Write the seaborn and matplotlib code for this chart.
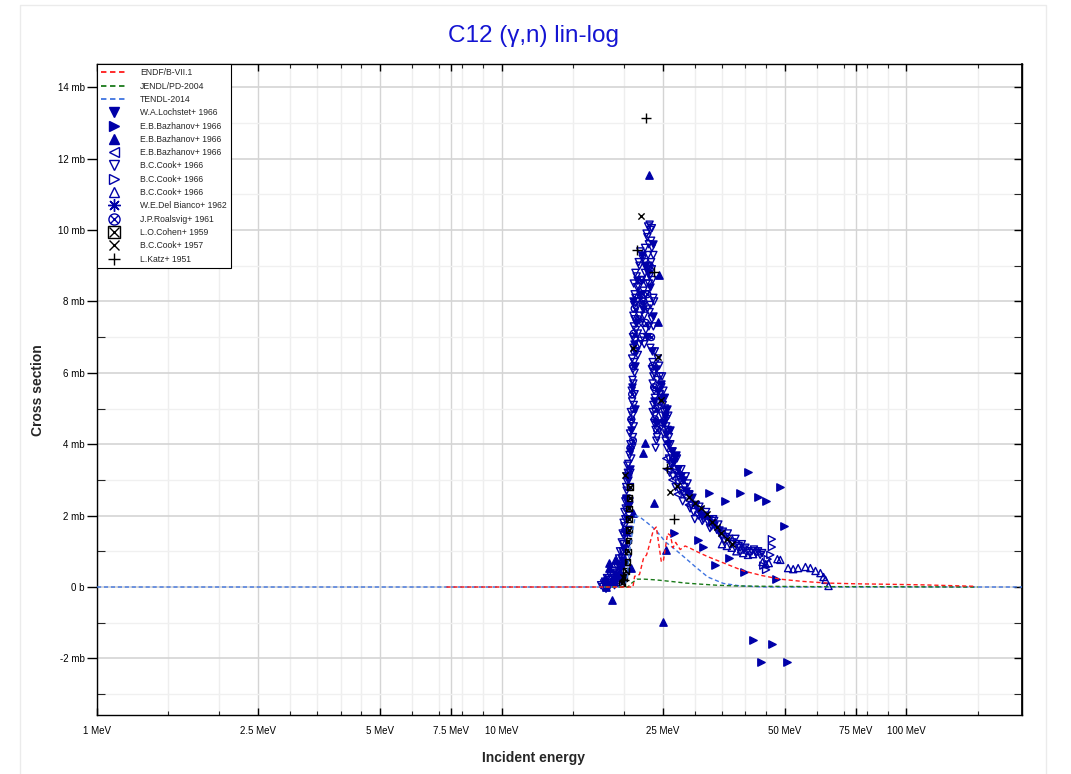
import numpy as np
import pandas as pd
import matplotlib
matplotlib.use("Agg")
import matplotlib.pyplot as plt
from matplotlib.lines import Line2D
from matplotlib.patches import Rectangle
from matplotlib.ticker import FixedLocator, FuncFormatter, NullFormatter
import seaborn as sns

# ---------------- data (MeV, mb) ----------------
endf_e = [7.3, 21.1, 21.3, 21.9, 22.4, 22.8, 23.2, 23.7, 24.1, 24.8, 25.1, 25.7, 26.1, 26.5, 26.9,
          27.6, 28.4, 29.3, 30.5, 32.3, 34.5, 36.7, 39.6, 44.0, 48.8, 55.0, 63.8, 75.0, 86.3, 110.0, 148.0]
endf_s = [0, 0, 0.3, 0.35, 0.8, 0.9, 1.2, 1.6, 1.68, 0.7, 0.75, 1.5, 1.45, 1.1, 1.25,
          1.05, 1.15, 1.08, 0.98, 0.85, 0.72, 0.6, 0.45, 0.32, 0.22, 0.16, 0.11, 0.09, 0.08, 0.06, 0.02]

jendl_e = [18.0, 20.5, 21.0, 21.6, 22.5, 24.0, 25.0, 26.5, 28.5, 31.0, 34.0, 38.0, 45.0, 60.0, 80.0, 110.0, 150.0]
jendl_s = [0, 0, 0.12, 0.22, 0.22, 0.2, 0.18, 0.15, 0.11, 0.08, 0.05, 0.03, 0.02, 0.01, 0.01, 0.005, 0.0]

tendl_e = [1.0, 19.5, 20.0, 20.4, 20.6, 21.0, 21.4, 22.0, 23.0, 24.0, 25.4, 26.9, 28.5, 30.0,
           32.3, 35.3, 38.9, 45.0, 200.0]
tendl_s = [0, 0, 0.05, 0.2, 0.84, 1.5, 2.0, 1.95, 1.78, 1.6, 1.26, 1.04, 0.8, 0.58,
           0.28, 0.1, 0.03, 0.0, 0.0]

lochstet_e = [18.8, 19.2, 19.6, 20.3, 20.5, 20.9, 21.0, 21.2, 21.1, 21.6, 22.2, 22.4, 22.8, 23.3, 23.7,
              23.5, 23.8, 24.1, 24.7, 25.0, 25.3, 25.5, 25.8, 26.3, 26.8, 27.3, 28.0, 28.6, 29.3, 30.0,
              30.8, 31.6, 32.5, 33.5, 34.5,
              18.3, 19.0, 19.4, 19.8, 20.0, 20.2, 20.4, 20.6, 20.7, 20.8, 21.3, 21.4, 21.5, 22.0, 22.6,
              23.0, 23.6, 24.0, 24.4, 25.1, 25.6, 26.0, 26.5, 27.0, 27.7, 29.0, 31.2, 33.0]
lochstet_s = [0.15, 0.3, 0.5, 2.5, 3.0, 4.4, 5.6, 6.8, 8.0, 8.6, 9.3, 7.8, 7.0, 8.4, 7.6,
              6.6, 5.2, 4.6, 5.7, 5.3, 4.8, 4.3, 4.0, 3.8, 3.6, 3.3, 3.0, 2.7, 2.5, 2.3,
              2.1, 2.0, 1.9, 1.75, 1.6,
              0.05, 0.2, 0.35, 0.75, 1.1, 1.5, 1.9, 2.3, 3.3, 3.8, 5.0, 6.2, 7.4, 8.2, 9.0,
              8.8, 9.6, 6.1, 5.5, 4.6, 5.0, 4.4, 3.5, 3.7, 3.1, 2.6, 2.0, 1.8]

baz_r_e = [40.7, 48.8, 32.6, 38.7, 35.7, 43.1, 44.9, 49.9, 30.6, 31.5, 36.5, 33.7, 39.6, 47.7,
           41.7, 46.6, 43.8, 50.7, 26.6]
baz_r_s = [3.22, 2.8, 2.63, 2.63, 2.41, 2.52, 2.41, 1.71, 1.32, 1.12, 0.81, 0.62, 0.42, 0.22,
           -1.48, -1.6, -2.1, -2.1, 1.51]

baz_u_e = [17.95, 18.1, 18.36, 18.46, 18.77, 19.1, 20.92, 21.16, 22.4, 22.66, 23.18, 23.85, 24.4,
           24.53, 25.09, 25.52]
baz_u_s = [0.25, 0.0, 0.53, 0.67, -0.36, 0.76, 0.53, 2.07, 3.75, 4.03, 11.54, 2.35, 7.42,
           8.74, -0.98, 1.04]

baz_l_e = [25.5, 25.7, 26.1, 26.4, 27.2, 29.0]
baz_l_s = [3.6, 3.3, 3.5, 3.0, 2.6, 2.3]

cook66_v_e = [17.6, 17.9, 18.1, 18.3, 18.5, 18.7, 18.9, 19.1, 19.2, 19.4, 19.5, 19.7, 19.8, 19.9, 20.0,
              20.05, 20.1, 20.2, 20.25, 20.3, 20.35, 20.4, 20.5, 20.55,
              17.8, 18.0, 18.2, 18.4, 18.6, 18.8, 19.0, 19.3, 19.5, 19.6, 19.8, 19.9, 20.0, 20.1, 20.2,
              20.3, 20.35, 20.45, 19.0, 19.4, 19.8, 20.2, 20.4, 20.5, 20.55, 20.6, 20.65, 20.7, 20.75, 20.8,
              20.7, 20.8, 20.75, 20.9, 20.85, 21.0, 20.95, 21.05, 21.1, 21.0, 21.15, 21.1, 21.2, 21.15,
              21.25, 21.3, 21.2, 21.4,
              20.9, 21.0, 21.1, 21.2, 21.05, 21.2, 21.3, 21.15, 21.3, 21.25, 21.4, 21.35, 21.45, 21.3,
              21.5, 21.4, 21.6, 21.55,
              21.5, 21.7, 21.9, 22.1, 22.3, 22.5, 22.7, 22.9, 23.1, 23.3, 23.5, 23.7, 21.6, 21.8, 22.0,
              22.2, 22.4, 22.6, 22.8, 23.0, 23.2, 23.4, 23.6, 21.9, 22.3,
              21.7, 21.9, 22.1, 22.3, 22.5, 22.7, 22.9, 23.1, 23.3, 23.5, 23.7, 23.9, 22.0, 22.6, 23.4,
              23.7, 22.8, 23.5, 23.0, 21.8, 22.2, 23.2, 23.8,
              22.6, 22.9, 23.1, 23.3, 23.2, 23.5, 23.0,
              23.6, 23.7, 23.8, 23.7, 23.9, 24.0, 24.1, 23.8,
              23.5, 23.6, 23.9, 23.6, 23.8, 24.2, 24.0, 24.2, 24.3, 24.4,
              24.6, 24.8, 24.7, 25.0, 24.9, 25.2, 25.1, 25.4, 25.6, 25.3, 25.5, 24.5,
              24.6, 24.9, 25.1, 25.3, 25.2, 25.5, 25.7, 25.9, 26.1, 25.8, 24.8, 26.2,
              25.9, 26.3, 26.7, 26.5, 27.0, 27.3, 27.6, 27.9, 28.3, 28.6, 29.0, 29.4, 26.9, 28.0,
              26.4, 26.8, 27.1, 27.4, 27.8, 28.2, 28.8, 29.2, 29.6, 26.0, 27.5, 28.5,
              29.8, 30.2, 30.6, 31.0, 31.5, 31.9, 32.4, 33.0, 33.5, 34.0, 34.6, 35.2, 35.8, 36.5,
              37.2, 38.0, 38.8, 39.6, 40.5, 41.5, 42.5, 43.5,
              30.0, 30.8, 31.3, 32.0, 32.7, 33.3, 34.3, 35.0, 35.5, 36.2, 37.0, 37.8, 38.5, 39.2,
              40.0, 41.0, 42.0, 43.0, 44.0]
cook66_v_s = [0.05, 0.1, -0.05, 0.1, 0.2, 0.1, 0.25, 0.2, 0.4, 0.35, 0.6, 0.55, 0.8, 1.0, 1.2,
              1.45, 1.7, 1.9, 2.2, 2.45, 2.7, 2.95, 3.2, 3.45,
              0.0, 0.15, 0.25, 0.0, 0.3, 0.35, 0.45, 0.55, 0.8, 1.0, 1.25, 1.5, 1.8, 2.1, 2.4,
              2.8, 3.1, 3.4, 0.05, 0.1, 0.2, 0.3, 0.5, 0.8, 1.2, 1.6, 2.0, 2.4, 2.8, 3.2,
              3.7, 4.0, 4.3, 4.6, 4.9, 5.2, 5.5, 5.8, 6.1, 6.4, 6.7, 7.0, 7.3, 7.6,
              7.9, 8.2, 8.5, 8.8,
              3.6, 3.9, 4.2, 4.5, 4.8, 5.1, 5.4, 5.7, 6.0, 6.3, 6.6, 6.9, 7.2, 7.5,
              7.8, 8.1, 8.4, 8.7,
              6.6, 7.1, 6.8, 7.4, 7.0, 7.6, 7.2, 7.8, 7.3, 7.9, 7.5, 8.1, 8.0, 8.4, 8.1,
              8.6, 8.3, 8.8, 8.5, 9.0, 8.7, 9.1, 8.6, 9.0, 9.2,
              6.5, 7.6, 6.9, 8.0, 6.8, 8.2, 7.0, 8.5, 6.7, 8.9, 7.3, 6.6, 9.4, 9.1, 9.7,
              9.3, 9.9, 10.05, 10.1, 9.1, 7.9, 7.7, 8.0,
              9.5, 9.8, 9.6, 10.0, 10.15, 9.5, 9.3,
              6.3, 5.9, 5.5, 5.1, 4.8, 4.4, 4.1, 6.0,
              6.1, 5.7, 5.3, 4.9, 4.6, 4.2, 3.9, 5.8, 6.4, 5.0,
              5.9, 5.6, 5.3, 5.1, 4.8, 4.6, 4.3, 4.1, 3.9, 5.0, 4.5, 6.2,
              5.4, 5.9, 5.5, 5.3, 4.9, 4.7, 4.4, 4.2, 4.0, 4.8, 4.5, 3.7,
              3.6, 3.4, 3.5, 3.1, 3.2, 2.9, 3.0, 2.7, 2.8, 2.5, 2.6, 2.3, 2.8, 2.4,
              3.8, 3.3, 3.6, 3.1, 3.3, 2.6, 2.9, 2.2, 2.5, 3.2, 2.7, 3.1,
              2.1, 2.3, 2.0, 2.15, 1.9, 2.0, 1.8, 1.7, 1.85, 1.6, 1.5, 1.55, 1.4, 1.35,
              1.25, 1.2, 1.1, 1.05, 1.0, 1.0, 0.95, 0.9,
              1.9, 2.25, 1.85, 2.1, 1.65, 1.9, 1.75, 1.4, 1.3, 1.5, 1.2, 1.35, 1.15, 1.2,
              1.1, 0.95, 1.05, 1.0, 0.95]

cook66_r_e = [46.5, 46.5, 46.1, 45.4, 45.0, 44.3]
cook66_r_s = [1.34, 1.12, 0.9, 0.78, 0.48, 0.6]

cook66_u_e = [35.0, 36.0, 37.0, 38.0, 39.0, 39.5, 40.6, 41.8, 43.1, 44.1, 44.9, 45.7, 48.0, 48.8,
              51.0, 52.5, 54.0, 56.3, 57.9, 59.6, 61.3, 62.4, 63.1, 64.2]
cook66_u_s = [1.2, 1.15, 1.1, 1.0, 1.05, 0.95, 0.9, 0.92, 1.0, 0.7, 0.64, 0.67, 0.78, 0.76,
              0.53, 0.5, 0.53, 0.56, 0.53, 0.45, 0.39, 0.28, 0.2, 0.03]

delbianco_e = [19.0, 19.5, 20.0, 20.4]
delbianco_s = [0.1, 0.3, 0.7, 1.5]

roalsvig_e = [19.3, 19.7, 20.0, 20.2, 20.4, 20.6, 20.8, 20.9, 21.0, 21.1, 21.2, 21.3, 21.8, 22.4,
              22.9, 23.4, 23.6, 23.8, 24.0, 24.2, 21.1, 21.2, 21.3, 22.1, 22.7, 23.2, 23.9, 24.6, 25.0]
roalsvig_s = [0.3, 0.6, 1.0, 1.6, 2.2, 3.2, 3.9, 4.7, 5.4, 6.2, 7.1, 7.8, 7.5, 8.0,
              8.2, 7.0, 6.2, 5.6, 5.0, 4.4, 4.1, 5.0, 6.6, 8.6, 7.4, 9.0, 4.7, 5.2, 4.6]

cohen_e = [19.8, 20.1, 20.3, 20.45, 20.5, 20.55, 20.6, 20.62, 20.65, 20.7, 20.72]
cohen_s = [0.1, 0.25, 0.45, 0.7, 1.0, 1.3, 1.6, 1.9, 2.2, 2.5, 2.8]

cook57_e = [22.15, 21.16, 24.27, 20.22, 24.8, 26.12, 27.1, 29.1, 30.1, 31.0, 32.1, 33.0, 34.0,
            34.9, 36.1, 37.0, 19.9]
cook57_s = [10.39, 6.69, 6.44, 3.14, 5.24, 2.66, 2.83, 2.52, 2.35, 2.21, 2.04, 1.82, 1.68,
            1.51, 1.34, 1.2, 0.28]

katz_e = [22.78, 21.65, 23.72, 25.67, 26.6, 20.0]
katz_s = [13.14, 9.44, 8.82, 3.33, 1.9, 0.2]

x_major = [1, 2.5, 5, 7.5, 10, 25, 50, 75, 100]
x_major_labels = ["1 MeV", "2.5 MeV", "5 MeV", "7.5 MeV", "10 MeV", "25 MeV", "50 MeV", "75 MeV", "100 MeV"]
x_minor = [1.5, 2, 3, 3.5, 4, 4.5, 6, 7, 8, 9, 15, 20, 30, 35, 40, 45, 60, 70, 80, 90, 150]
y_major = [-2, 0, 2, 4, 6, 8, 10, 12, 14]
y_minor = [-3, -1, 1, 3, 5, 7, 9, 11, 13]

# ---------------- style ----------------
sns.set_theme(style="white")
plt.rcParams['font.family'] = ['Liberation Sans', 'DejaVu Sans']

BLUE = '#0000a8'
RED = '#ff1a1a'
GREEN = '#1a7a1a'
LBLUE = '#3f74e0'
DASH = (0, (3, 2))

fig = plt.figure(figsize=(10.71, 7.74), dpi=100)
fig.patches.append(Rectangle((20 / 1071, -0.01), 1026 / 1071, 1 - 5 / 774 + 0.01,
                             transform=fig.transFigure, fill=False, edgecolor='#ebebeb', lw=1))
ax = fig.add_axes([97 / 1071, 59 / 774, 925 / 1071, 651 / 774])
ax.set_xscale('log')
ax.set_xlim(1, 193)
ax.set_ylim(-3.585, 14.65)

# grid
for v in x_minor:
    ax.axvline(v, color='#eeeeee', lw=1, zorder=0)
for v in x_major:
    ax.axvline(v, color='#d4d4d4', lw=1, zorder=0)
for v in y_minor:
    ax.axhline(v, color='#f0f0f0', lw=1, zorder=0)
for v in y_major:
    ax.axhline(v, color='#d4d4d4', lw=1.2, zorder=0)

# evaluated curves
sns.lineplot(x=tendl_e, y=tendl_s, ax=ax, color=LBLUE, lw=1, linestyle=DASH,
             estimator=None, sort=False, zorder=4, legend=False)
sns.lineplot(x=jendl_e, y=jendl_s, ax=ax, color=GREEN, lw=1, linestyle=DASH,
             estimator=None, sort=False, zorder=4, legend=False)
sns.lineplot(x=endf_e, y=endf_s, ax=ax, color=RED, lw=1, linestyle=DASH,
             estimator=None, sort=False, zorder=4, legend=False)


def scat(x, y, marker, color, s, open_=False, lw=1.0, z=3):
    sns.scatterplot(x=x, y=y, ax=ax, marker=marker, s=s, color=color, linewidth=lw,
                    zorder=z, legend=False)
    coll = ax.collections[-1]
    if open_:
        coll.set_facecolor('none')
    coll.set_edgecolor(color)
    coll.set_linewidth(lw)


ASTER = (8, 2, 0)
scat(cook66_v_e, cook66_v_s, 'v', BLUE, 26, open_=True)
scat(lochstet_e, lochstet_s, 'v', BLUE, 26)
scat(roalsvig_e, roalsvig_s, 'o', BLUE, 24, open_=True)
scat(roalsvig_e, roalsvig_s, 'x', BLUE, 14)
scat(delbianco_e, delbianco_s, ASTER, BLUE, 28)
scat(cook66_u_e, cook66_u_s, '^', BLUE, 26, open_=True)
scat(cook66_r_e, cook66_r_s, '>', BLUE, 26, open_=True)
scat(baz_l_e, baz_l_s, '<', BLUE, 26, open_=True)
scat(baz_r_e, baz_r_s, '>', BLUE, 28)
scat(baz_u_e, baz_u_s, '^', BLUE, 28)
scat(cohen_e, cohen_s, 's', 'black', 16, open_=True)
scat(cohen_e, cohen_s, 'x', 'black', 12)
scat(cook57_e, cook57_s, 'x', 'black', 20, z=5)
scat(katz_e, katz_s, '+', 'black', 44, z=5)

# ticks
ax.xaxis.set_major_locator(FixedLocator(x_major))
ax.xaxis.set_minor_locator(FixedLocator(x_minor))
ax.xaxis.set_major_formatter(FuncFormatter(lambda v, p: x_major_labels[x_major.index(v)] if v in x_major else ""))
ax.xaxis.set_minor_formatter(NullFormatter())
ax.yaxis.set_major_locator(FixedLocator(y_major))
ax.yaxis.set_minor_locator(FixedLocator(y_minor))
ax.yaxis.set_major_formatter(FuncFormatter(lambda v, p: "0 b" if abs(v) < 1e-9 else f"{v:g} mb"))

ax.tick_params(axis='x', which='major', direction='in', length=5, width=1, labelsize=7, pad=8,
               top=True, bottom=True, colors='black')
ax.tick_params(axis='x', which='minor', direction='in', length=3, width=0.8, top=True, bottom=True)
ax.tick_params(axis='y', which='major', direction='out', length=7, width=1, labelsize=7, pad=2,
               left=True, right=False, colors='black')
ax.tick_params(axis='y', which='minor', direction='in', length=6, width=0.8, left=True, right=True)
sec = ax.secondary_yaxis('right', functions=(lambda v: v, lambda v: v))
sec.yaxis.set_major_locator(FixedLocator(y_major))
sec.yaxis.set_minor_locator(FixedLocator([]))
sec.tick_params(which='major', direction='in', length=6, width=1, labelright=False, colors='black')
sec.spines['right'].set_color('black')
for s in ax.spines.values():
    s.set_color('black')
    s.set_linewidth(1)
    s.set_visible(True)

# legend
def ln(c):
    return Line2D([], [], color=c, lw=1.3, linestyle=DASH)


def mk(m, fc, ec=BLUE, ms=7, mew=1.0):
    return Line2D([], [], marker=m, linestyle='none', markerfacecolor=fc, markeredgecolor=ec,
                  markersize=ms, markeredgewidth=mew)


handles = [
    ln(RED), ln(GREEN), ln(LBLUE),
    mk('v', BLUE), mk('>', BLUE), mk('^', BLUE), mk('<', 'none'),
    mk('v', 'none'), mk('>', 'none'), mk('^', 'none'),
    mk(ASTER, BLUE, ms=9),
    (mk('o', 'none', ms=8), mk('x', BLUE, ms=6)),
    (mk('s', 'none', 'black', ms=8), mk('x', 'black', 'black', ms=7)),
    mk('x', 'black', 'black', ms=7),
    mk('+', 'black', 'black', ms=9),
]
labels = ["ENDF/B-VII.1", "JENDL/PD-2004", "TENDL-2014", "W.A.Lochstet+ 1966", "E.B.Bazhanov+ 1966",
          "E.B.Bazhanov+ 1966", "E.B.Bazhanov+ 1966", "B.C.Cook+ 1966", "B.C.Cook+ 1966",
          "B.C.Cook+ 1966", "W.E.Del Bianco+ 1962", "J.P.Roalsvig+ 1961", "L.O.Cohen+ 1959",
          "B.C.Cook+ 1957", "L.Katz+ 1951"]
leg = ax.legend(handles=handles, labels=labels, loc='upper left', bbox_to_anchor=(0, 1),
                borderaxespad=0, frameon=True, fancybox=False, fontsize=6.2, labelspacing=0.5,
                handlelength=2.9, handletextpad=1.6, borderpad=0.5)
leg.get_frame().set_edgecolor('black')
leg.get_frame().set_linewidth(0.8)
leg.get_frame().set_alpha(1)
leg.set_zorder(10)

# titles
fig.text(533 / 1071, 1 - 36 / 774, "C12 (γ,n) lin-log", color='#1414d2', fontsize=17.5,
         ha='center', va='center')
fig.text(533 / 1071, 1 - 758 / 774, "Incident energy", fontsize=10, fontweight='bold',
         ha='center', va='center')
fig.text(38 / 1071, 1 - 390 / 774, "Cross section", fontsize=10, fontweight='bold',
         ha='center', va='center', rotation=90)

fig.savefig("out.png", dpi=100, facecolor='white')
